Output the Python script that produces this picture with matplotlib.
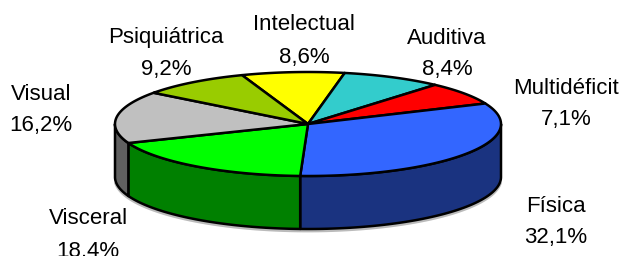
import numpy as np
import matplotlib
matplotlib.use("Agg")
import matplotlib.pyplot as plt
from matplotlib.patches import Polygon

# disability types, clockwise from 12 o'clock
categories = ["Intelectual", "Auditiva", "Multidéficit", "Física", "Visceral", "Visual", "Psiquiátrica"]
values = [8.6, 8.4, 7.1, 32.1, 18.4, 16.2, 9.2]
top_colors = ["#FFFF00", "#33CCCC", "#FF0000", "#3366FF", "#00FF00", "#C0C0C0", "#99CC00"]
side_colors = ["#808000", "#1A6666", "#800000", "#1A3380", "#008000", "#606060", "#4C6600"]

# label centres (name line, percent line) in pixels
label_xy = {
    "Intelectual": (304, 25, 57),
    "Auditiva": (447, 38, 70),
    "Multidéficit": (566, 88, 120),
    "Física": (556, 207, 238),
    "Visceral": (88, 218, 251),
    "Visual": (41, 95, 126),
    "Psiquiátrica": (166, 38, 70),
}

cx, cy, a, b, depth = 308, 124, 193, 52, 53
start = 110.0

plt.rcParams['font.family'] = ['Liberation Sans', 'DejaVu Sans']

fig = plt.figure(figsize=(6.23, 2.56), dpi=100)
ax = fig.add_axes([0, 0, 1, 1])
ax.set_xlim(0, 623)
ax.set_ylim(256, 0)
ax.axis("off")


def arc(t_from, t_to, dz=0, n=80):
    t = np.radians(np.linspace(t_from, t_to, n))
    return np.column_stack([cx + a * np.cos(t), cy - b * np.sin(t) + dz])


bounds = start - np.concatenate([[0], np.cumsum(values)]) / sum(values) * 360

# soft shadow under the pie
ax.plot(*arc(-175, -5, depth + 2).T, color="#bbbbbb", lw=2, zorder=0)

# side walls (front half only)
for i in range(len(values)):
    t0, t1 = bounds[i], bounds[i + 1]
    lo, hi = max(t1, -180), min(t0, 0)
    if hi <= lo:
        continue
    pts = np.vstack([arc(lo, hi), arc(hi, lo, depth)])
    ax.add_patch(Polygon(pts, closed=True, facecolor=side_colors[i],
                         edgecolor="black", lw=1.8, joinstyle="round", zorder=1))

# top face
for i in range(len(values)):
    t0, t1 = bounds[i], bounds[i + 1]
    pts = np.vstack([[cx, cy], arc(t0, t1)])
    ax.add_patch(Polygon(pts, closed=True, facecolor=top_colors[i],
                         edgecolor="black", lw=1.8, joinstyle="round", zorder=2))

for name, val in zip(categories, values):
    x, y1, y2 = label_xy[name]
    ax.text(x, y1, name, ha="center", va="center", fontsize=16)
    ax.text(x, y2, f"{val:.1f}%".replace(".", ","), ha="center", va="center", fontsize=16)

fig.savefig("out.png", dpi=100)
